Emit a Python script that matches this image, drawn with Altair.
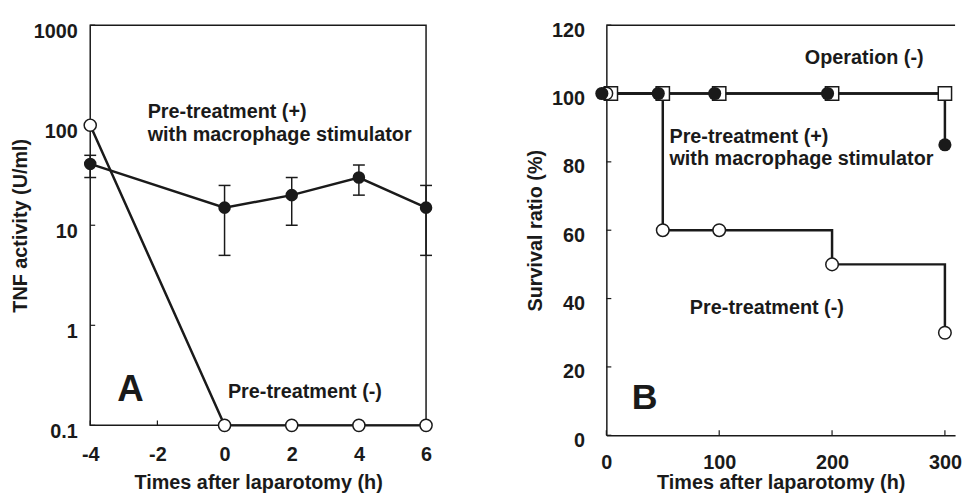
import altair as alt
import pandas as pd

FONT = "Liberation Sans"
INK = "#1a1a1a"

# ---------------- Panel A : TNF activity ----------------
a_time = [-4, 0, 2, 4, 6]
a_plus = [41, 15, 20, 30, 15]          # Pre-treatment (+) with macrophage stimulator
a_plus_hi = [50, 25, 30, 40, 25]
a_plus_lo = [30, 5, 10, 20, 5]
a_minus = [100, 0.1, 0.1, 0.1, 0.1]    # Pre-treatment (-)
a_xticks = [-4, -2, 0, 2, 4, 6]
a_yticks = [0.1, 1, 10, 100, 1000]
a_lbl_text = ["Pre-treatment (+)", "with macrophage stimulator", "Pre-treatment (-)"]
a_lbl_x = [-2.29, -2.29, 0.10]
a_lbl_y = [117, 70, 0.189]

# ---------------- Panel B : Survival ratio ----------------
b_time_plus = [-4, 46, 96, 196, 300]
b_plus = [100, 100, 100, 100, 85]      # Pre-treatment (+)
b_time_op = [4, 50, 100, 200, 300]
b_op = [100, 100, 100, 100, 100]       # Operation (-)
b_time_minus = [0, 50, 100, 200, 300]
b_minus = [100, 60, 60, 50, 30]        # Pre-treatment (-)
b_xticks = [0, 100, 200, 300]
b_yticks = [0, 20, 40, 60, 80, 100, 120]
b_lbl_text = ["Operation (-)", "Pre-treatment (+)", "with macrophage stimulator", "Pre-treatment (-)"]
b_lbl_x = [175.9, 55.9, 55.9, 74.0]
b_lbl_y = [108.5, 85.5, 79.0, 35.5]

WA, HA = 339, 404
WB, HB = 352, 414

fonts = dict(labelFont=FONT, labelFontSize=20, labelFontWeight="bold", labelColor=INK,
             titleFont=FONT, titleFontSize=20, titleFontWeight="bold", titleColor=INK,
             grid=False, ticks=False, tickSize=0, labelFlush=False)

# ---- Panel A
sAx = alt.Scale(domain=[-4, 6], nice=False, zero=False)
sAy = alt.Scale(type="log", domain=[0.1, 1000], nice=False)
axAx = alt.Axis(values=a_xticks, labelExpr="'' + datum.value", labelPadding=19, titlePadding=9,
                domain=False, title="Times after laparotomy (h)", **fonts)
axAy = alt.Axis(values=a_yticks, format="~g", labelPadding=13, labelOffset=6, titlePadding=3,
                domain=False, title="TNF activity (U/ml)", **fonts)

dfA = pd.DataFrame({"t": a_time, "plus": a_plus, "hi": a_plus_hi, "lo": a_plus_lo, "minus": a_minus})
dfAyt = pd.DataFrame({"v": a_yticks})
dfAxt = pd.DataFrame({"v": a_xticks})
dfAl = pd.DataFrame({"x": a_lbl_x, "y": a_lbl_y, "label": a_lbl_text})
dfAletter = pd.DataFrame({"x": [-2.8], "y": [0.177], "label": ["A"]})


def XA(f):
    return alt.X(field=f, type="quantitative", scale=sAx, axis=axAx)


def YA(f):
    return alt.Y(field=f, type="quantitative", scale=sAy, axis=axAy)


baseA = alt.Chart(dfA)
lineA_plus = baseA.mark_line(color=INK, strokeWidth=2.5).encode(x=XA("t"), y=YA("plus"))
lineA_minus = baseA.mark_line(color=INK, strokeWidth=2.5).encode(x=XA("t"), y=YA("minus"))
errA = baseA.mark_rule(color=INK, strokeWidth=1.5).encode(x=XA("t"), y=YA("lo"), y2=alt.Y2(field="hi"))
capA_hi = baseA.mark_tick(orient="horizontal", size=12, thickness=1.5, color=INK, opacity=1).encode(x=XA("t"), y=YA("hi"))
capA_lo = baseA.mark_tick(orient="horizontal", size=12, thickness=1.5, color=INK, opacity=1).encode(x=XA("t"), y=YA("lo"))
openA = baseA.mark_circle(fill="white", stroke=INK, strokeWidth=1.5, size=150, opacity=1).encode(x=XA("t"), y=YA("minus"))
fillA = baseA.mark_circle(color=INK, size=160, opacity=1).encode(x=XA("t"), y=YA("plus"))
ytA = alt.Chart(dfAyt).mark_rule(color=INK, strokeWidth=1.2).encode(y=YA("v"), x=alt.value(0), x2=alt.value(5))
xtA = alt.Chart(dfAxt).mark_rule(color=INK, strokeWidth=1.2).encode(x=XA("v"), y=alt.value(HA), y2=alt.value(HA - 5))
txtA = alt.Chart(dfAl).mark_text(align="left", baseline="alphabetic", font=FONT, fontSize=20,
                                 fontWeight="bold", color=INK).encode(x=XA("x"), y=YA("y"), text="label:N")
letA = alt.Chart(dfAletter).mark_text(align="center", baseline="alphabetic", font=FONT, fontSize=37,
                                      fontWeight="bold", color=INK).encode(x=XA("x"), y=YA("y"), text="label:N")

panelA = alt.layer(lineA_plus, lineA_minus, errA, capA_hi, capA_lo, ytA, xtA,
                   openA, fillA, txtA, letA).properties(
    width=WA, height=HA, view=alt.ViewBackground(stroke=INK, strokeWidth=1.5))

# ---- Panel B
sBx = alt.Scale(domain=[0, 309], nice=False, zero=False)
sBy = alt.Scale(domain=[0, 120], nice=False, zero=False)
axBx = alt.Axis(values=b_xticks, labelPadding=18, titlePadding=0, domain=True, domainColor=INK,
                domainWidth=1.5, title="Times after laparotomy (h)", **fonts)
axBy = alt.Axis(values=b_yticks, labelPadding=22, labelOffset=5, titlePadding=6, domain=True,
                domainColor=INK, domainWidth=1.5, title="Survival ratio (%)", **fonts)


def XB(f):
    return alt.X(field=f, type="quantitative", scale=sBx, axis=axBx)


def YB(f):
    return alt.Y(field=f, type="quantitative", scale=sBy, axis=axBy)


dfBp = pd.DataFrame({"t": b_time_plus, "v": b_plus})
dfBo = pd.DataFrame({"t": b_time_op, "v": b_op})
dfBm = pd.DataFrame({"t": b_time_minus, "v": b_minus})
dfByt = pd.DataFrame({"v": b_yticks})
dfBxt = pd.DataFrame({"v": b_xticks})
dfBl = pd.DataFrame({"x": b_lbl_x, "y": b_lbl_y, "label": b_lbl_text})
dfBletter = pd.DataFrame({"x": [34.0], "y": [7.7], "label": ["B"]})
dfBtop = pd.DataFrame({"x0": [0], "x1": [309], "y": [120]})

topB = alt.Chart(dfBtop).mark_rule(color=INK, strokeWidth=1.5).encode(
    x=XB("x0"), x2=alt.X2(field="x1"), y=YB("y"))
lineB_op = alt.Chart(dfBo).mark_line(color=INK, strokeWidth=2.5, interpolate="step-after").encode(x=XB("t"), y=YB("v"))
lineB_minus = alt.Chart(dfBm).mark_line(color=INK, strokeWidth=2.5, interpolate="step-after").encode(x=XB("t"), y=YB("v"))
lineB_plus = alt.Chart(dfBp).mark_line(color=INK, strokeWidth=2.5, interpolate="step-after").encode(x=XB("t"), y=YB("v"))
ytB = alt.Chart(dfByt).mark_rule(color=INK, strokeWidth=1.2).encode(y=YB("v"), x=alt.value(0), x2=alt.value(5))
xtB = alt.Chart(dfBxt).mark_rule(color=INK, strokeWidth=1.2).encode(x=XB("v"), y=alt.value(HB), y2=alt.value(HB - 5))
sqB = alt.Chart(dfBo).mark_square(fill="white", stroke=INK, strokeWidth=1.5, size=180, opacity=1).encode(x=XB("t"), y=YB("v"))
openB = alt.Chart(dfBm).mark_circle(fill="white", stroke=INK, strokeWidth=1.5, size=160, opacity=1).encode(x=XB("t"), y=YB("v"))
fillB = alt.Chart(dfBp).mark_circle(color=INK, size=175, opacity=1).encode(x=XB("t"), y=YB("v"))
txtB = alt.Chart(dfBl).mark_text(align="left", baseline="alphabetic", font=FONT, fontSize=20,
                                 fontWeight="bold", color=INK).encode(x=XB("x"), y=YB("y"), text="label:N")
letB = alt.Chart(dfBletter).mark_text(align="center", baseline="alphabetic", font=FONT, fontSize=36,
                                      fontWeight="bold", color=INK).encode(x=XB("x"), y=YB("y"), text="label:N")

panelB = alt.layer(lineB_op, topB, lineB_minus, lineB_plus, ytB, xtB, sqB, openB, fillB, txtB, letB).properties(
    width=WB, height=HB)

chart = alt.hconcat(panelA, panelB, spacing=90).properties(
    padding={"left": 1, "top": 9, "right": 0, "bottom": 0},
    background="white",
).configure(font=FONT).configure_view(stroke="transparent")

chart.save("out.html", embed_options={"renderer": "svg", "actions": False})
